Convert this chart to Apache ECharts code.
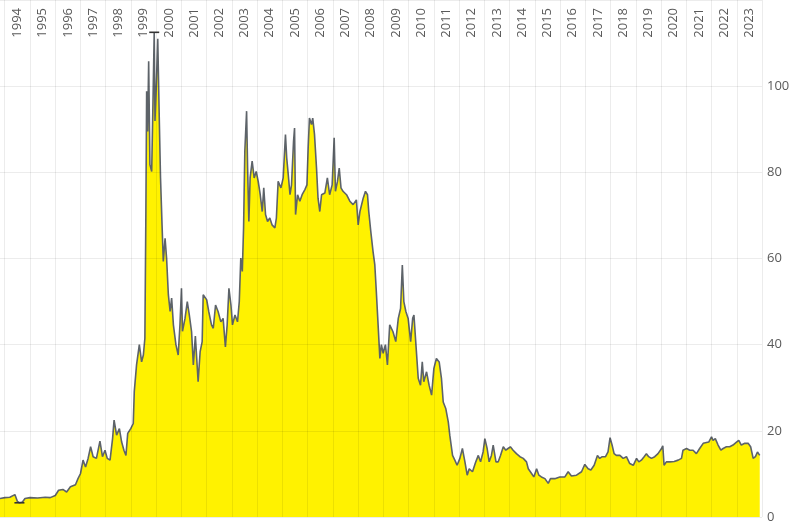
<!DOCTYPE html>
<html>
<head>
<meta charset="utf-8">
<script src="https://cdn.jsdelivr.net/npm/echarts@6/dist/echarts.min.js"></script>
<style>html,body{margin:0;padding:0;background:#fff}#c{width:800px;height:527px}</style>
</head>
<body>
<div id="c"></div>
<script>
const yearLabels = ['1994','1995','1996','1997','1998','1999','2000','2001','2002','2003','2004','2005','2006','2007','2008','2009','2010','2011','2012','2013','2014','2015','2016','2017','2018','2019','2020','2021','2022','2023'];
const yTicks = [0, 20, 40, 60, 80, 100, 120];
const dates = [
1993.81,1994.0,1994.2,1994.4,1994.5,1994.58,1994.7,1994.8,1995.0,1995.3,1995.6,1995.8,
1996.0,1996.13,1996.3,1996.45,1996.6,1996.8,1996.9,1997.0,1997.1,1997.2,1997.3,1997.4,1997.5,1997.63,1997.77,1997.87,1997.97,
1998.06,1998.17,1998.27,1998.33,1998.43,1998.54,1998.63,1998.72,1998.8,1998.87,1998.99,
1999.09,1999.13,1999.22,1999.33,1999.42,1999.49,1999.55,1999.59,1999.62,1999.66,1999.7,1999.75,1999.82,1999.88,1999.92,1999.95,
2000.0,2000.06,2000.12,2000.17,2000.23,2000.28,2000.35,2000.41,2000.48,2000.55,2000.61,2000.68,2000.78,2000.87,2000.94,
2001.0,2001.04,2001.14,2001.23,2001.31,2001.40,2001.47,2001.55,2001.66,2001.74,2001.82,2001.86,
2002.0,2002.08,2002.19,2002.26,2002.35,2002.45,2002.56,2002.65,2002.74,2002.81,2002.88,2002.96,
2003.02,2003.12,2003.22,2003.29,2003.35,2003.41,2003.46,2003.51,2003.58,2003.62,2003.67,2003.72,2003.8,2003.88,2003.96,
2004.04,2004.12,2004.2,2004.26,2004.33,2004.41,2004.5,2004.59,2004.7,2004.76,2004.83,2004.94,
2005.03,2005.12,2005.17,2005.23,2005.3,2005.36,2005.44,2005.48,2005.52,2005.6,2005.69,2005.78,2005.89,2005.97,
2006.02,2006.07,2006.15,2006.2,2006.27,2006.35,2006.41,2006.48,2006.55,2006.68,2006.78,2006.87,2006.97,
2007.05,2007.1,2007.18,2007.25,2007.32,2007.4,2007.54,2007.67,2007.8,2007.93,
2008.0,2008.07,2008.2,2008.29,2008.37,2008.42,2008.5,2008.59,2008.66,2008.72,2008.79,2008.86,2008.92,2008.99,
2009.08,2009.16,2009.25,2009.38,2009.49,2009.59,2009.68,2009.75,2009.81,2009.89,2009.98,
2010.08,2010.16,2010.21,2010.29,2010.38,2010.47,2010.54,2010.6,2010.71,2010.81,2010.91,
2011.0,2011.1,2011.21,2011.3,2011.37,2011.47,2011.57,2011.63,2011.74,2011.83,2011.92,
2012.03,2012.13,2012.23,2012.32,2012.4,2012.53,2012.66,2012.76,2012.85,2012.95,
2013.02,2013.11,2013.19,2013.28,2013.35,2013.46,2013.55,2013.64,2013.75,2013.85,2013.94,
2014.03,2014.14,2014.27,2014.41,2014.54,2014.67,2014.74,2014.87,2014.96,
2015.07,2015.16,2015.26,2015.4,2015.53,2015.62,2015.79,2015.99,
2016.19,2016.32,2016.45,2016.65,2016.85,2016.98,
2017.11,2017.22,2017.35,2017.48,2017.57,2017.67,2017.8,2017.9,2017.98,
2018.06,2018.14,2018.23,2018.37,2018.5,2018.63,2018.76,2018.9,
2019.03,2019.12,2019.22,2019.33,2019.42,2019.51,2019.62,2019.75,2019.88,
2020.02,2020.07,2020.12,2020.21,2020.35,2020.52,2020.68,2020.81,2020.87,
2021.01,2021.14,2021.27,2021.4,2021.53,2021.67,2021.8,2021.89,
2022.0,2022.06,2022.15,2022.26,2022.37,2022.46,2022.59,2022.72,2022.85,2022.99,
2023.08,2023.18,2023.32,2023.45,2023.55,2023.65,2023.74,2023.82,2023.91
];
const prices = [
4.3,4.5,4.6,5.2,3.6,3.3,3.5,4.3,4.5,4.4,4.6,4.5,
5.0,6.2,6.4,5.8,7.0,7.5,8.9,10.1,13.2,11.6,13.6,16.3,14.0,13.6,17.6,14.0,15.5,
13.6,13.2,18.2,22.5,19.0,20.5,17.4,15.5,14.3,19.4,20.5,
21.7,29.1,35.3,40.0,36.0,37.6,41.5,70.9,98.8,89.5,105.8,81.8,80.2,99.2,112.5,91.9,
99.6,111.0,92.6,78.7,67.8,59.3,64.7,60.1,51.6,47.7,50.8,44.6,40.0,37.6,44.6,
53.1,43.1,46.1,50.0,46.9,43.0,35.3,42.0,31.4,38.4,40.7,51.6,
50.4,47.7,44.6,43.8,49.2,47.7,45.3,46.1,39.5,44.6,53.1,49.2,
44.6,46.9,45.3,50.0,60.1,57.0,67.1,84.9,94.2,81.0,68.6,78.7,82.6,78.7,80.2,
77.9,74.8,70.9,76.4,70.2,68.6,69.4,67.8,67.1,69.4,77.9,76.4,
78.7,88.8,83.3,79.5,74.8,77.1,87.2,90.3,70.2,74.8,73.3,74.8,76.0,77.1,
85.7,92.6,91.1,92.6,88.8,81.0,74.0,70.9,74.8,75.2,78.7,74.8,77.1,
88.0,75.6,77.9,81.0,76.4,75.6,74.8,73.3,72.5,73.6,
67.8,70.9,74.0,75.6,74.8,70.9,66.3,61.6,58.5,52.3,44.6,36.8,40.0,38.0,
40.0,35.3,44.6,43.0,40.7,46.1,48.4,58.5,50.0,47.7,46.1,
40.7,46.1,46.9,39.9,32.2,30.6,36.0,31.4,33.7,30.6,28.3,
34.5,36.8,36.0,32.2,26.7,25.2,22.1,19.0,14.3,13.2,12.0,
13.6,15.9,12.8,9.7,11.2,10.5,12.8,14.3,12.8,15.1,
18.2,15.9,12.8,14.3,16.7,12.8,12.8,14.3,16.3,15.5,15.9,
16.3,15.5,14.7,14.0,13.6,12.8,11.2,10.1,9.3,
11.2,9.7,9.3,8.9,7.8,8.9,8.9,9.3,
9.3,10.5,9.5,9.7,10.5,12.2,
11.2,10.9,12.0,14.3,13.6,14.0,14.0,15.1,18.4,
16.7,14.7,14.3,14.3,13.6,14.0,12.4,12.0,
13.6,12.8,13.2,14.0,14.7,14.0,13.6,14.0,14.7,
15.9,16.5,12.0,12.8,12.8,12.9,13.2,13.6,15.5,
15.9,15.5,15.5,14.7,15.9,17.1,17.3,17.4,
18.6,17.8,18.2,16.7,15.5,15.9,16.3,16.3,16.7,17.4,
17.8,16.7,17.1,17.1,16.3,13.6,14.0,15.1,14.3
];

const chart = echarts.init(document.getElementById('c'), null, {renderer: 'canvas'});
const gridLine = {show: true, lineStyle: {color: 'rgba(0,0,0,0.075)', width: 1}};
const fontFamily = '"Open Sans", "Noto Sans", sans-serif';
chart.setOption({
  animation: false,
  backgroundColor: '#ffffff',
  grid: [
    {left: 0, right: 38, top: 0, bottom: 10},
    {left: 4.75, right: 38, top: 0, bottom: 10}
  ],
  xAxis: [
    {type: 'value', gridIndex: 0, min: 1993.81, max: 2024, show: false},
    {type: 'category', gridIndex: 1, position: 'top', data: yearLabels, boundaryGap: true, z: 5,
     axisLine: {show: false}, axisTick: {show: false},
     splitLine: Object.assign({interval: 0}, gridLine),
     axisLabel: {inside: true, rotate: 90, interval: 0, margin: 8, color: '#5a5a5a', fontSize: 13, fontFamily: fontFamily, padding: [0, 0, 8, 0]}}
  ],
  yAxis: [
    {type: 'value', gridIndex: 0, position: 'right', min: yTicks[0], max: yTicks[yTicks.length - 1], interval: 20, z: 5,
     axisLine: {show: false}, axisTick: {show: false}, splitLine: gridLine,
     axisLabel: {margin: 5, color: '#5a5a5a', fontSize: 13, fontFamily: fontFamily, showMaxLabel: false}},
    {type: 'value', gridIndex: 1, min: 0, max: 1, show: false}
  ],
  series: [{
    type: 'line',
    xAxisIndex: 0, yAxisIndex: 0,
    data: dates.map((d, i) => [d, prices[i]]),
    showSymbol: false,
    symbol: 'none',
    lineStyle: {color: '#5d6369', width: 1.6},
    areaStyle: {color: '#fff200', opacity: 1},
    markPoint: {
      symbol: 'rect', symbolSize: [10, 1.6],
      itemStyle: {color: '#333'},
      label: {show: false},
      data: [{type: 'max'}, {type: 'min'}]
    }
  }]
});
</script>
</body>
</html>
